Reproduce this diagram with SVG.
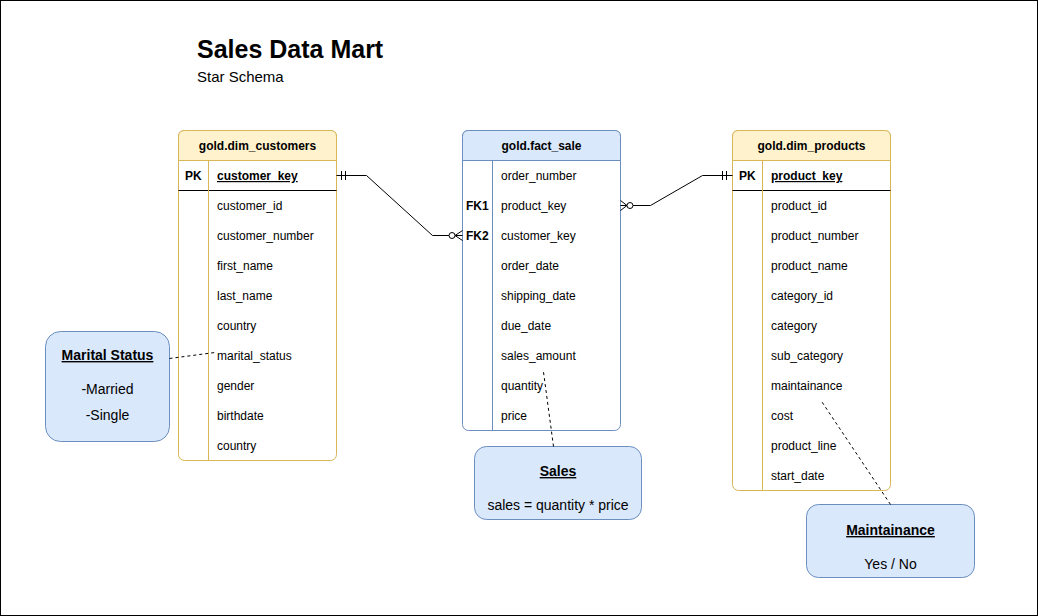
<svg xmlns="http://www.w3.org/2000/svg" width="1038" height="616" viewBox="0 0 1038 616">
<style>
  text { font-family: "Liberation Sans", Arial, sans-serif; font-size: 12px; fill: #000; }
  .hdr { font-weight: bold; text-anchor: middle; }
  .key { font-weight: bold; }
  .pk { text-decoration: underline; font-weight: bold; }
  .dim { fill: #fff2cc; stroke: #d6b656; stroke-width: 1; }
  .dimb { fill: #ffffff; stroke: #d6b656; stroke-width: 1; }
  .fact { fill: #dae8fc; stroke: #6c8ebf; stroke-width: 1; }
  .factb { fill: #ffffff; stroke: #6c8ebf; stroke-width: 1; }
  .note { fill: #dae8fc; stroke: #6c8ebf; stroke-width: 1; }
  .ntitle { font-size: 14px; font-weight: bold; text-decoration: underline; text-anchor: middle; }
  .ntext { font-size: 14px; text-anchor: middle; }
  .conn { fill: none; stroke: #000; stroke-width: 1; }
  .dash { fill: none; stroke: #000; stroke-width: 1; stroke-dasharray: 3 3; }
</style>
<rect x="0.5" y="0.5" width="1037" height="615" fill="#ffffff" stroke="#000000"/>

<g id="title">
  <text x="197" y="58" style="font-size:25px;font-weight:bold">Sales Data Mart</text>
  <text x="197" y="82" style="font-size:15px">Star Schema</text>
</g>

<g id="dim_customers">
  <rect class="dimb" x="178.5" y="130.5" width="158" height="330" rx="6"/>
  <path class="dim" d="M178.5,160.5 V136.5 Q178.5,130.5 184.5,130.5 H330.5 Q336.5,130.5 336.5,136.5 V160.5 Z"/>
  <line x1="178.5" y1="190.5" x2="336.5" y2="190.5" stroke="#000"/>
  <line x1="208.5" y1="160.5" x2="208.5" y2="460.5" stroke="#d6b656"/>
  <text class="hdr" x="257.5" y="150">gold.dim_customers</text>
  <text class="key" x="185" y="180">PK</text>
  <text class="pk" x="217" y="180">customer_key</text>
  <text x="217" y="210">customer_id</text>
  <text x="217" y="240">customer_number</text>
  <text x="217" y="270">first_name</text>
  <text x="217" y="300">last_name</text>
  <text x="217" y="330">country</text>
  <text x="217" y="360">marital_status</text>
  <text x="217" y="390">gender</text>
  <text x="217" y="420">birthdate</text>
  <text x="217" y="450">country</text>
</g>

<g id="fact_sale">
  <rect class="factb" x="462.5" y="130.5" width="158" height="300" rx="6"/>
  <path class="fact" d="M462.5,160.5 V136.5 Q462.5,130.5 468.5,130.5 H614.5 Q620.5,130.5 620.5,136.5 V160.5 Z"/>
  <line x1="492.5" y1="160.5" x2="492.5" y2="430.5" stroke="#6c8ebf"/>
  <text class="hdr" x="541.5" y="150">gold.fact_sale</text>
  <text x="501" y="180">order_number</text>
  <text class="key" x="466" y="210">FK1</text>
  <text x="501" y="210">product_key</text>
  <text class="key" x="466" y="240">FK2</text>
  <text x="501" y="240">customer_key</text>
  <text x="501" y="270">order_date</text>
  <text x="501" y="300">shipping_date</text>
  <text x="501" y="330">due_date</text>
  <text x="501" y="360">sales_amount</text>
  <text x="501" y="390">quantity</text>
  <text x="501" y="420">price</text>
</g>

<g id="dim_products">
  <rect class="dimb" x="732.5" y="130.5" width="158" height="360" rx="6"/>
  <path class="dim" d="M732.5,160.5 V136.5 Q732.5,130.5 738.5,130.5 H884.5 Q890.5,130.5 890.5,136.5 V160.5 Z"/>
  <line x1="732.5" y1="190.5" x2="890.5" y2="190.5" stroke="#000"/>
  <line x1="762.5" y1="160.5" x2="762.5" y2="490.5" stroke="#d6b656"/>
  <text class="hdr" x="811.5" y="150">gold.dim_products</text>
  <text class="key" x="739" y="180">PK</text>
  <text class="pk" x="771" y="180">product_key</text>
  <text x="771" y="210">product_id</text>
  <text x="771" y="240">product_number</text>
  <text x="771" y="270">product_name</text>
  <text x="771" y="300">category_id</text>
  <text x="771" y="330">category</text>
  <text x="771" y="360">sub_category</text>
  <text x="771" y="390">maintainance</text>
  <text x="771" y="420">cost</text>
  <text x="771" y="450">product_line</text>
  <text x="771" y="480">start_date</text>
</g>

<g id="note_marital">
  <rect class="note" x="45.5" y="331.5" width="124" height="110" rx="15"/>
  <text class="ntitle" x="107.5" y="360">Marital Status</text>
  <text class="ntext" x="107.5" y="394">-Married</text>
  <text class="ntext" x="107.5" y="420">-Single</text>
</g>

<g id="note_sales">
  <rect class="note" x="474.5" y="446.5" width="167" height="73" rx="12"/>
  <text class="ntitle" x="558" y="476">Sales</text>
  <text class="ntext" x="558" y="510">sales = quantity * price</text>
</g>

<g id="note_maint">
  <rect class="note" x="806.5" y="504.5" width="168" height="73" rx="12"/>
  <text class="ntitle" x="890.5" y="535">Maintainance</text>
  <text class="ntext" x="890.5" y="569">Yes / No</text>
</g>

<g id="connectors">
  <!-- customers to fact -->
  <path class="conn" d="M336.5,175.5 H366.5 L432.5,235.5 H449"/>
  <line class="conn" x1="341.5" y1="171" x2="341.5" y2="180"/>
  <line class="conn" x1="345.5" y1="171" x2="345.5" y2="180"/>
  <circle class="conn" cx="452" cy="235.5" r="3" fill="#fff"/>
  <path class="conn" d="M462.5,230.5 L455,235.5 L462.5,240.5 M455,235.5 H462.5"/>
  <!-- fact to products -->
  <path class="conn" d="M633,205.5 H650.5 L702.5,175.5 H732.5"/>
  <circle class="conn" cx="630" cy="205.5" r="3" fill="#fff"/>
  <path class="conn" d="M620.5,200.5 L627,205.5 L620.5,210.5 M620.5,205.5 H627"/>
  <line class="conn" x1="722.5" y1="171" x2="722.5" y2="180"/>
  <line class="conn" x1="726.5" y1="171" x2="726.5" y2="180"/>
  <!-- note links -->
  <path class="dash" d="M169.5,358.5 L215,352.5"/>
  <path class="dash" d="M553.5,446.5 L543.5,372"/>
  <path class="dash" d="M890.5,504.5 L822,402"/>
</g>
</svg>
